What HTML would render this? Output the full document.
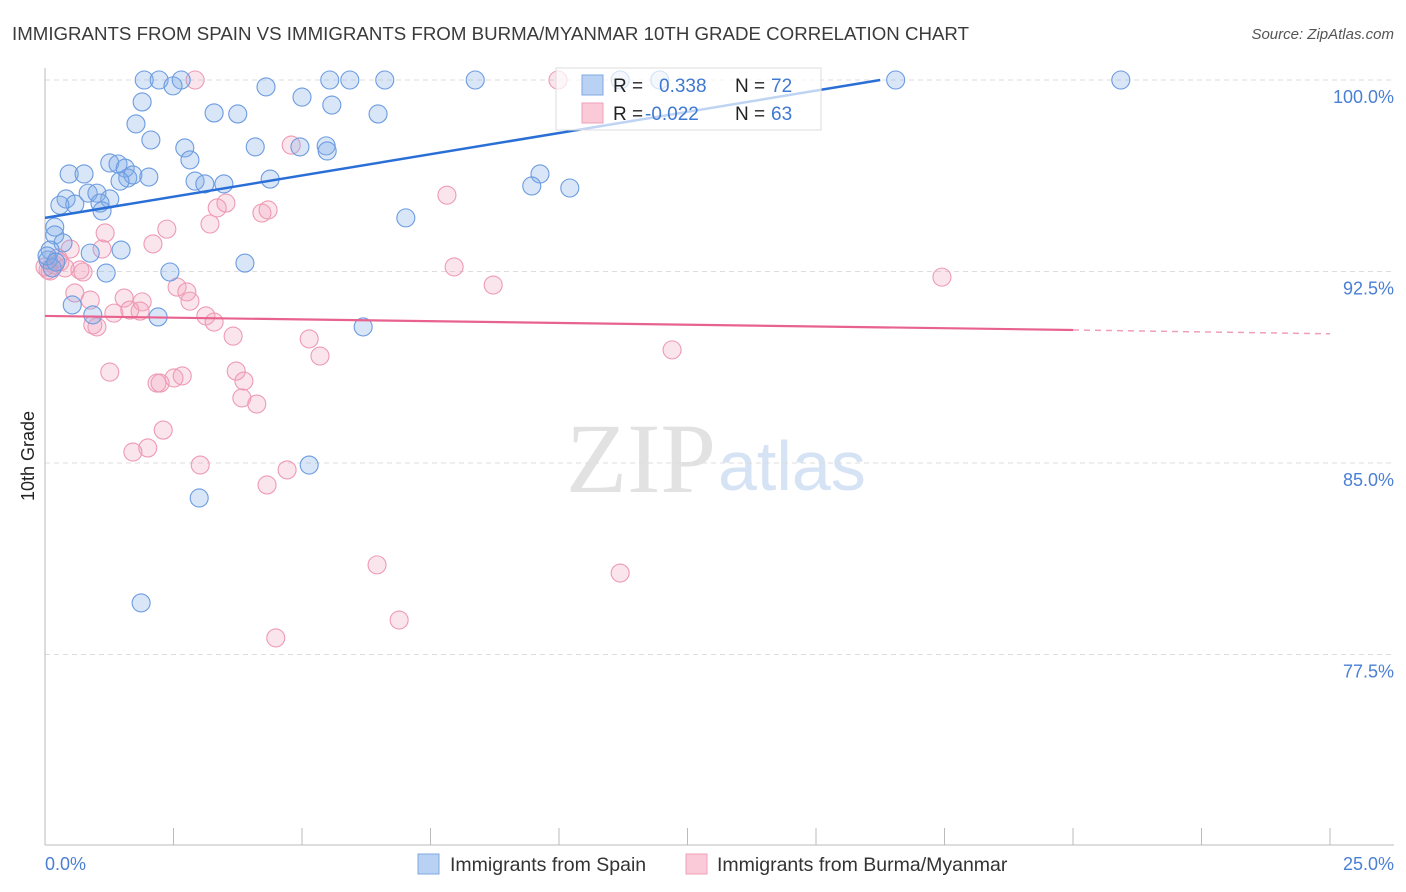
<!DOCTYPE html>
<html><head><meta charset="utf-8"><style>
body{margin:0;background:#fff;font-family:"Liberation Sans",sans-serif}
svg{display:block}
</style></head><body>
<svg width="1406" height="892" viewBox="0 0 1406 892">
<text x="12" y="40" font-size="18" fill="#3a3a3a" textLength="957" lengthAdjust="spacingAndGlyphs">IMMIGRANTS FROM SPAIN VS IMMIGRANTS FROM BURMA/MYANMAR 10TH GRADE CORRELATION CHART</text>
<text x="1394" y="39" font-size="15" fill="#555" font-style="italic" text-anchor="end">Source: ZipAtlas.com</text>
<text x="716" y="492" font-size="100" fill="#e2e2e2" font-family="Liberation Serif,serif" text-anchor="end">ZIP</text>
<text x="718" y="490" font-size="70" fill="#d6e3f5">atlas</text>
<g id="grid"></g>
<line x1="45" y1="68" x2="45" y2="845" stroke="#bbb"/>
<line x1="45" y1="845" x2="1394" y2="845" stroke="#bbb"/>
<text transform="translate(34,456) rotate(-90)" font-size="18" fill="#222" text-anchor="middle">10th Grade</text>
<text x="45" y="870" font-size="18" fill="#4a7fd4">0.0%</text>
<text x="1394" y="870" font-size="18" fill="#4a7fd4" text-anchor="end">25.0%</text>
<g id="pts"></g>
<g id="trends"></g>
<g>
<rect x="556" y="68" width="265" height="62" fill="rgba(255,255,255,0.7)" stroke="#ddd"/>
<rect x="582" y="75" width="21" height="20" fill="#b9d2f4" stroke="#7fa8e0"/>
<rect x="582" y="103" width="21" height="20" fill="#fbcad8" stroke="#efa0b8"/>
<text x="613" y="92" font-size="19" fill="#222">R =</text>
<text x="659" y="92" font-size="19" fill="#3f78d0">0.338</text>
<text x="735" y="92" font-size="19" fill="#222">N =</text>
<text x="771" y="92" font-size="19" fill="#3f78d0">72</text>
<text x="613" y="120" font-size="19" fill="#222">R =</text>
<text x="645" y="120" font-size="19" fill="#3f78d0">-0.022</text>
<text x="735" y="120" font-size="19" fill="#222">N =</text>
<text x="771" y="120" font-size="19" fill="#3f78d0">63</text>
</g>
<g>
<rect x="418" y="854" width="21" height="20" fill="#b9d2f4" stroke="#7fa8e0"/>
<text x="450" y="871" font-size="19.5" fill="#333">Immigrants from Spain</text>
<rect x="686" y="854" width="21" height="20" fill="#fbcad8" stroke="#efa0b8"/>
<text x="717" y="871" font-size="19.5" fill="#333">Immigrants from Burma/Myanmar</text>
</g>
</svg>
<script>
const yTicks=[100,92.5,85,77.5];
const yTickLabels=["100.0%","92.5%","85.0%","77.5%"];
const xTicks=[0,2.5,5,7.5,10,12.5,15,17.5,20,22.5,25];
const blueX=[1.93,2.22,2.65,2.49,5.54,5.93,6.61,8.37,16.55,20.93,1.89,4.30,5.00,5.58,3.29,3.75,6.48,1.77,2.06,2.72,2.82,4.09,4.96,5.47,5.49,1.26,1.42,1.56,1.61,1.71,1.46,2.02,0.47,0.76,2.92,3.11,3.48,4.38,9.63,9.47,10.21,0.41,0.84,1.01,1.26,0.58,0.29,1.07,1.11,7.02,0.19,0.19,0.35,0.10,0.88,1.48,3.89,2.43,1.19,0.53,0.93,2.20,6.19,5.14,3.00,1.87,0.06,0.14,0.04,0.21,11.19,11.96];
const blueY=[100,100,100,99.77,100,100,100,100,100,100,99.14,99.73,99.33,99.02,98.71,98.67,98.67,98.28,97.65,97.34,96.87,97.38,97.38,97.42,97.22,96.75,96.71,96.55,96.16,96.28,96.04,96.20,96.32,96.32,96.04,95.93,95.93,96.12,96.32,95.85,95.77,95.34,95.57,95.57,95.34,95.14,95.10,95.18,94.87,94.60,94.24,93.93,93.62,93.34,93.22,93.34,92.83,92.48,92.44,91.19,90.80,90.72,90.33,84.92,83.63,79.52,92.95,92.64,93.11,92.87,100,100];
const pinkX=[2.92,9.98,4.79,7.82,3.35,3.52,4.22,4.34,3.21,2.37,2.10,1.17,0.49,1.11,0.29,0.19,0.10,0.39,0.74,0.68,7.96,8.72,17.45,2.57,2.76,2.82,1.54,1.89,0.88,0.58,1.34,1.65,1.85,3.13,3.29,1.01,0.93,3.66,5.14,5.35,12.20,1.26,3.72,3.87,2.18,2.24,2.51,2.67,3.83,4.12,2.30,2.00,1.71,3.02,4.71,4.32,6.46,11.19,6.89,4.49,0.06,0.25,0];
const pinkY=[100,100,97.45,95.49,94.99,95.18,94.79,94.91,94.36,94.16,93.58,94.01,93.38,93.38,92.87,92.75,92.52,92.64,92.48,92.56,92.68,91.97,92.28,91.89,91.70,91.34,91.46,91.31,91.38,91.66,90.87,90.99,90.95,90.76,90.52,90.33,90.41,89.97,89.86,89.19,89.43,88.56,88.60,88.21,88.13,88.13,88.33,88.41,87.55,87.31,86.29,85.59,85.43,84.92,84.73,84.14,81.01,80.69,78.85,78.15,92.56,93.03,92.68];
const blueTrend=[[0,94.6],[16.25,100]];
const pinkTrendSolid=[[0,90.76],[20,90.21]];
const pinkTrendDash=[[20,90.21],[25,90.06]];
const NS="http://www.w3.org/2000/svg";
const sx=v=>45+v/25*1285;
const sy=v=>80+(100-v)/7.5*191.5;
function mk(t,a,p){const e=document.createElementNS(NS,t);for(const k in a)e.setAttribute(k,a[k]);p.appendChild(e);return e;}
const grid=document.getElementById('grid');
yTicks.forEach((t,i)=>{
 const l=mk('line',{x1:45,x2:1394,y1:sy(t),y2:sy(t),stroke:'#ddd','stroke-dasharray':'5,4'},grid);
 
 
 const tx=mk('text',{x:1394,y:sy(t)+23,'font-size':18,fill:'#4a7fd4','text-anchor':'end'},grid);
 tx.textContent=yTickLabels[i];
 
 
});
xTicks.forEach(t=>{
 const l=mk('line',{x1:sx(t),x2:sx(t),y1:828,y2:845,stroke:'#bbb'},grid);
 
 
});
const pts=document.getElementById('pts');
pinkX.forEach((x,i)=>{
 const c=mk('circle',{cx:sx(x),cy:sy(pinkY[i]),r:9,fill:'rgba(242,160,186,0.28)',stroke:'#ee9ab4','stroke-width':1.1},pts);
 
 
});
blueX.forEach((x,i)=>{
 const c=mk('circle',{cx:sx(x),cy:sy(blueY[i]),r:9,fill:'rgba(130,172,232,0.3)',stroke:'#6b9be0','stroke-width':1.1},pts);
 
 
});
const tr=document.getElementById('trends');
const b=mk('line',{x1:sx(blueTrend[0][0]),y1:sy(blueTrend[0][1]),x2:sx(blueTrend[1][0]),y2:sy(blueTrend[1][1]),stroke:'#2a6fd6','stroke-width':2.5},tr);


const p=mk('line',{x1:sx(pinkTrendSolid[0][0]),y1:sy(pinkTrendSolid[0][1]),x2:sx(pinkTrendSolid[1][0]),y2:sy(pinkTrendSolid[1][1]),stroke:'#e8628e','stroke-width':2.2},tr);


const pd=mk('line',{x1:sx(pinkTrendDash[0][0]),y1:sy(pinkTrendDash[0][1]),x2:sx(pinkTrendDash[1][0]),y2:sy(pinkTrendDash[1][1]),stroke:'#efa0b8','stroke-width':1.5,'stroke-dasharray':'6,5'},tr);


</script>
</body></html>
